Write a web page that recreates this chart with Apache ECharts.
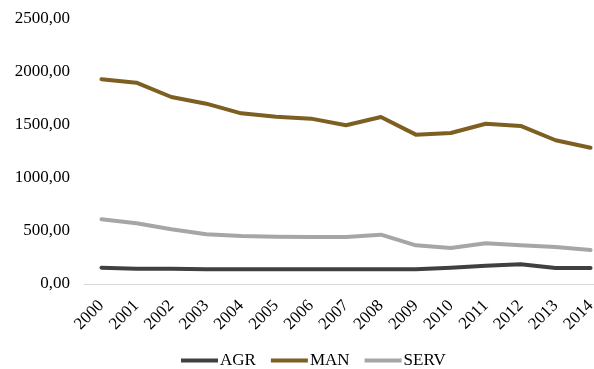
<!DOCTYPE html>
<html>
<head>
<meta charset="utf-8">
<script src="https://cdn.jsdelivr.net/npm/echarts@6/dist/echarts.min.js"></script>
<style>
  html, body { margin: 0; padding: 0; background: #fff; overflow: hidden; }
  /* the plot area runs a little past the right edge of the window */
  #chart { width: 608px; height: 369px; }
</style>
</head>
<body>
<div id="chart"></div>
<script>
// Years on the category axis
const years = ['2000','2001','2002','2003','2004','2005','2006','2007','2008','2009','2010','2011','2012','2013','2014'];

// Sector series
const agr  = [154, 145, 143, 138, 138, 138, 138, 138, 138, 138, 154, 173, 186, 151, 151];
const man  = [1931, 1899, 1764, 1701, 1610, 1578, 1560, 1497, 1575, 1409, 1425, 1512, 1491, 1356, 1286];
const serv = [610, 573, 516, 469, 453, 446, 443, 443, 465, 365, 340, 384, 365, 349, 321];

// Value axis ticks
const yTicks = [0, 500, 1000, 1500, 2000, 2500];

const font = 'Liberation Serif, "Times New Roman", serif';
const colors = { AGR: '#404040', MAN: '#7d5f22', SERV: '#a6a6a6' };

function lineSeries(name, data) {
  return {
    name: name,
    type: 'line',
    data: data,
    symbol: 'none',
    lineStyle: { width: 4, color: colors[name], cap: 'round', join: 'round' },
    itemStyle: { color: colors[name] },
    z: name === 'MAN' ? 3 : 2
  };
}

const chart = echarts.init(document.getElementById('chart'), null, { renderer: 'canvas' });
chart.setOption({
  animation: false,
  backgroundColor: '#ffffff',
  grid: { left: 84, right: 0, top: 19, bottom: 85, containLabel: false },
  legend: {
    left: 176,
    top: 347,
    icon: 'rect',
    itemWidth: 37,
    itemHeight: 4,
    itemGap: 15,
    textStyle: { fontFamily: font, fontSize: 17, color: '#000', padding: [0, 0, 0, -3] },
    data: ['AGR', 'MAN', 'SERV']
  },
  xAxis: {
    type: 'category',
    data: years,
    boundaryGap: true,
    axisLine: { show: true, lineStyle: { color: '#d9d9d9', width: 1 } },
    axisTick: { show: false },
    axisLabel: {
      rotate: 45,
      interval: 0,
      margin: 19,
      fontFamily: font,
      fontSize: 17,
      color: '#000'
    }
  },
  yAxis: {
    type: 'value',
    min: yTicks[0],
    max: yTicks[yTicks.length - 1],
    interval: yTicks[1] - yTicks[0],
    axisLine: { show: false },
    axisTick: { show: false },
    splitLine: { show: false },
    axisLabel: {
      margin: 14,
      fontFamily: font,
      fontSize: 17,
      color: '#000',
      formatter: v => v.toFixed(2).replace('.', ',')
    }
  },
  series: [
    lineSeries('AGR', agr),
    lineSeries('MAN', man),
    lineSeries('SERV', serv)
  ]
});
</script>
</body>
</html>
